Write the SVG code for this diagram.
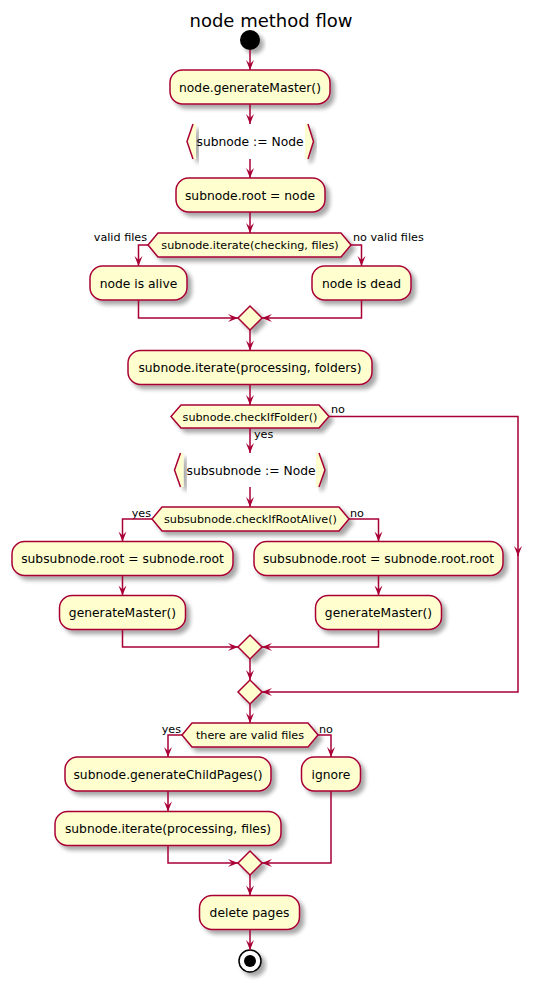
<svg xmlns="http://www.w3.org/2000/svg" width="542" height="987" viewBox="0 0 542 987">
<defs>
<style>
.box{fill:#FEFECE;stroke:#A80036;stroke-width:1.5;filter:url(#sh)}
.br{fill:none;stroke:#A80036;stroke-width:1.5}
.brf{fill:#FEFECE;stroke:none;filter:url(#sh)}
.t{font-family:"DejaVu Sans",sans-serif;font-size:12.3px;fill:#000;text-anchor:middle}
.td{font-family:"DejaVu Sans",sans-serif;font-size:11.2px;fill:#000;text-anchor:middle}
.lb{font-family:"DejaVu Sans",sans-serif;font-size:11.2px;fill:#000}
.e{text-anchor:end}
#edges path{fill:none;stroke:#A80036;stroke-width:1.5;marker-end:url(#ah)}
</style>
<filter id="sh" x="-20%" y="-20%" width="150%" height="160%">
<feGaussianBlur in="SourceAlpha" stdDeviation="2" result="b"/>
<feOffset in="b" dx="4" dy="4" result="o"/>
<feComponentTransfer in="o" result="s"><feFuncA type="linear" slope="0.35"/></feComponentTransfer>
<feMerge><feMergeNode in="s"/><feMergeNode in="SourceGraphic"/></feMerge>
</filter>
<marker id="ah" markerUnits="userSpaceOnUse" markerWidth="10" markerHeight="8" refX="10" refY="4" orient="auto" overflow="visible">
<path d="M0,0 L10,4 L0,8 L4,4 Z" fill="#A80036"/>
</marker>
</defs>
<rect width="542" height="987" fill="#FFFFFF"/>
<text x="271" y="27" style="font-family:'DejaVu Sans',sans-serif;font-size:18px;text-anchor:middle">node method flow</text>

<g id="start"><circle cx="250" cy="40" r="10" fill="#000" filter="url(#sh)"/></g>

<g id="n1"><rect class="box" x="170" y="70" width="160" height="34" rx="12.5"/><text class="t" x="250" y="91.5">node.generateMaster()</text></g>

<g id="loop1">
<polygon class="brf" points="193,124 187,141.5 193,159 196,159 196,124"/>
<polygon class="brf" points="308,124 313.5,141.5 308,159 305,159 305,124"/>
<polyline class="br" points="193,124 187,141.5 193,159"/>
<polyline class="br" points="308,124 313.5,141.5 308,159"/>
<text class="t" x="250" y="146">subnode := Node</text>
</g>

<g id="n2"><rect class="box" x="176" y="178" width="149" height="34" rx="12.5"/><text class="t" x="250" y="199.5">subnode.root = node</text></g>

<g id="d1"><polygon class="box" points="148,245 158,233 341,233 351,245 341,257 158,257"/><text class="td" x="250" y="249">subnode.iterate(checking, files)</text>
<text class="lb e" x="147" y="241">valid files</text><text class="lb" x="353" y="241">no valid files</text></g>

<g id="n3"><rect class="box" x="90" y="266" width="97" height="34" rx="12.5"/><text class="t" x="138.5" y="287.5">node is alive</text></g>
<g id="n4"><rect class="box" x="312" y="266" width="99" height="34" rx="12.5"/><text class="t" x="361.5" y="287.5">node is dead</text></g>

<g id="m1"><polygon class="box" points="250,306 262,318 250,330 238,318"/></g>

<g id="n5"><rect class="box" x="128" y="350.5" width="244" height="34" rx="12.5"/><text class="t" x="250" y="372">subnode.iterate(processing, folders)</text></g>

<g id="d2"><polygon class="box" points="171,416.5 181,405 319,405 329,416.5 319,428 181,428"/><text class="td" x="250" y="420.5">subnode.checkIfFolder()</text>
<text class="lb" x="331" y="413">no</text><text class="lb" x="254" y="438">yes</text></g>

<g id="loop2">
<polygon class="brf" points="180.5,453 174.5,470 180.5,487 183.5,487 183.5,453"/>
<polygon class="brf" points="319,453 325,470 319,487 316,487 316,453"/>
<polyline class="br" points="180.5,453 174.5,470 180.5,487"/>
<polyline class="br" points="319,453 325,470 319,487"/>
<text class="t" x="251" y="474.5">subsubnode := Node</text>
</g>

<g id="d3"><polygon class="box" points="152,519 162,507 339,507 349,519 339,531 162,531"/><text class="td" x="250.5" y="523">subsubnode.checkIfRootAlive()</text>
<text class="lb e" x="151" y="516.5">yes</text><text class="lb" x="350" y="516.5">no</text></g>

<g id="n6"><rect class="box" x="12" y="541.5" width="221" height="34" rx="12.5"/><text class="t" x="122.5" y="563">subsubnode.root = subnode.root</text></g>
<g id="n7"><rect class="box" x="254" y="541.5" width="249" height="34" rx="12.5"/><text class="t" x="378.5" y="563">subsubnode.root = subnode.root.root</text></g>

<g id="n8"><rect class="box" x="59.5" y="595.5" width="126" height="34" rx="12.5"/><text class="t" x="122.5" y="617">generateMaster()</text></g>
<g id="n9"><rect class="box" x="315.5" y="595.5" width="126" height="34" rx="12.5"/><text class="t" x="378.5" y="617">generateMaster()</text></g>

<g id="m2"><polygon class="box" points="250,635 262,647 250,659 238,647"/></g>
<g id="m3"><polygon class="box" points="250,680 262,692 250,704 238,692"/></g>

<g id="d4"><polygon class="box" points="182,735 192,723 308,723 318,735 308,747 192,747"/><text class="td" x="250" y="739">there are valid files</text>
<text class="lb e" x="181" y="732.5">yes</text><text class="lb" x="319" y="732.5">no</text></g>

<g id="n10"><rect class="box" x="65" y="757" width="206" height="34" rx="12.5"/><text class="t" x="168" y="778.5">subnode.generateChildPages()</text></g>
<g id="n11"><rect class="box" x="301.5" y="757" width="59" height="34" rx="12.5"/><text class="t" x="331" y="778.5">ignore</text></g>
<g id="n12"><rect class="box" x="55" y="811.5" width="226" height="34" rx="12.5"/><text class="t" x="168" y="833">subnode.iterate(processing, files)</text></g>

<g id="m4"><polygon class="box" points="250,851 262,863 250,875 238,863"/></g>

<g id="n13"><rect class="box" x="199.5" y="895.5" width="100" height="34" rx="12.5"/><text class="t" x="249.5" y="917">delete pages</text></g>

<g id="end"><circle cx="250" cy="961" r="11" fill="#FFFFFF" stroke="#000" stroke-width="1.5" filter="url(#sh)"/><circle cx="250" cy="961" r="6" fill="#000"/></g>

<g id="edges">
<path d="M250,50 L250,70"/>
<path d="M250,104 L250,124"/>
<path d="M250,159 L250,178"/>
<path d="M250,212 L250,233"/>
<path d="M148,245 L138.5,245 L138.5,266"/>
<path d="M351,245 L361.5,245 L361.5,266"/>
<path d="M138.5,300 L138.5,318 L238,318"/>
<path d="M361.5,300 L361.5,318 L262,318"/>
<path d="M250,330 L250,350.5"/>
<path d="M250,384.5 L250,405"/>
<path d="M329,416.5 L518,416.5 L518,556"/>
<path d="M518,554 L518,692 L262,692"/>
<path d="M250,428 L250,453"/>
<path d="M250,487 L250,507"/>
<path d="M152,519 L122.5,519 L122.5,541.5"/>
<path d="M349,519 L378.5,519 L378.5,541.5"/>
<path d="M122.5,575.5 L122.5,595.5"/>
<path d="M378.5,575.5 L378.5,595.5"/>
<path d="M122.5,629.5 L122.5,647 L238,647"/>
<path d="M378.5,629.5 L378.5,647 L262,647"/>
<path d="M250,659 L250,680"/>
<path d="M250,704 L250,723"/>
<path d="M182,735 L168,735 L168,757"/>
<path d="M318,735 L331,735 L331,757"/>
<path d="M168,791 L168,811.5"/>
<path d="M168,845.5 L168,863 L238,863"/>
<path d="M331,791 L331,863 L262,863"/>
<path d="M250,875 L250,895.5"/>
<path d="M250,929.5 L250,950"/>
</g>
</svg>
